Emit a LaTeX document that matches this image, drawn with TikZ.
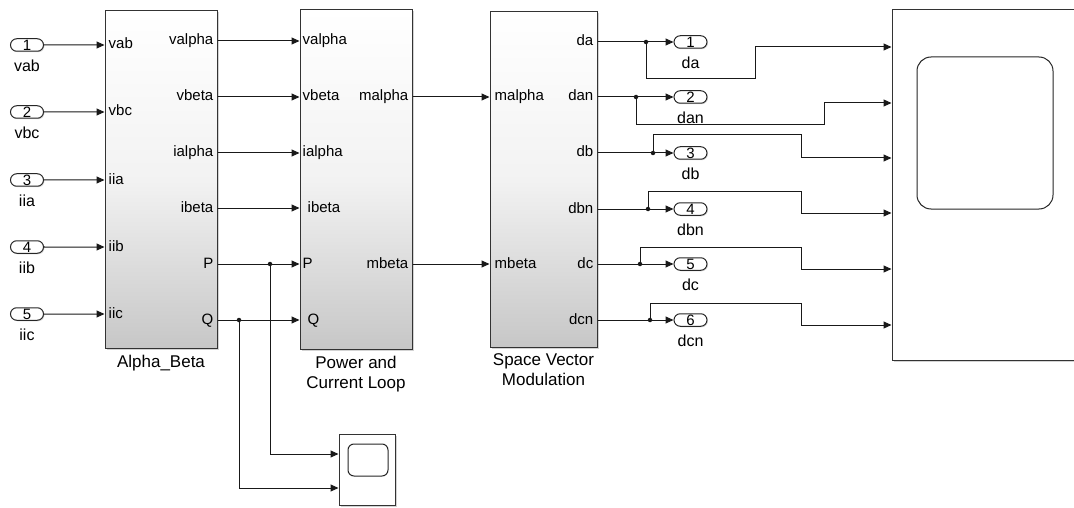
\documentclass[tikz,border=0pt]{standalone}
\usepackage{fontspec}
\setmainfont{Liberation Sans}
\usetikzlibrary{arrows.meta, positioning, shapes.misc, shadows}
\tikzstyle{block} = [rectangle, draw=black!80, line width=1pt, inner sep=0pt,
top color=white, bottom color=black!22, middle color=black!5,
drop shadow={shadow xshift=1.5pt, shadow yshift=-1.5pt, opacity=0.35}]
\tikzstyle{scopebox} = [rectangle, draw=black!80, line width=1pt, inner sep=0pt, fill=white,
drop shadow={shadow xshift=1.5pt, shadow yshift=-1.5pt, opacity=0.35}]
\tikzstyle{screen} = [rectangle, draw=black!85, line width=1pt, inner sep=0pt]
\tikzstyle{port} = [rounded rectangle, draw=black!85, line width=1pt, fill=white, inner sep=0pt,
minimum width=33pt, minimum height=12.5pt, font=\fontsize{15}{15}\selectfont,
drop shadow={shadow xshift=1pt, shadow yshift=-1pt, opacity=0.3}]
\tikzstyle{plbl} = [inner sep=1pt, text height=11pt, text depth=3pt, font=\fontsize{15}{15}\selectfont]
\tikzstyle{slbl} = [inner sep=1pt, font=\fontsize{16}{16}\selectfont]
\tikzstyle{blbl} = [inner sep=1pt, align=center, font=\fontsize{17}{20}\selectfont]
\tikzstyle{sig} = [line width=1pt, draw=black!90, -{Triangle[length=8pt,width=7pt]}]
\tikzstyle{dot} = [circle, fill=black!90, inner sep=0pt, minimum size=4.5pt]

\begin{document}
\begin{tikzpicture}[x=1pt, y=-1pt]
        \useasboundingbox (0,0) rectangle (1074,508);

        % Bloques
        \node [block, minimum width=112pt, minimum height=337pt] (alphabeta) at (161,179.5) {};
        \node [block, minimum width=112pt, minimum height=339pt] (power) at (356,179.5) {};
        \node [block, minimum width=107pt, minimum height=335pt] (svm) at (543.5,179.5) {};
        \node [blbl, below=5pt of alphabeta] (abname) {Alpha\_Beta};
        \node [blbl, below=5pt of power] (pcname) {Power and\\Current Loop};
        \node [blbl, below=5pt of svm] (svname) {Space Vector\\Modulation};

        % Scopes
        \node [scopebox, minimum width=190pt, minimum height=350pt] (scope) at (987,185) {};
        \node [screen, rounded corners=14pt, minimum width=136pt, minimum height=152pt] (scopescr) at (985,133) {};
        \node [scopebox, minimum width=56pt, minimum height=71pt] (scopepq) at (367,469.5) {};
        \node [screen, rounded corners=6pt, minimum width=40pt, minimum height=32pt] (scopepqscr) at (368,460) {};

        % Entradas
        \foreach \s/\y [count=\i] in {vab/45, vbc/112, iia/180, iib/247, iic/314} {
            \node [port] (\s) at (27,\y) {\i};
            \node [slbl, below=7pt of \s] (l\s) {\s};
            \node [plbl, anchor=west, xshift=3pt] (ab\s) at (alphabeta.west |- \s) {\s};
            \draw [sig] (\s) -- (alphabeta.west |- \s);
        }

        % Alpha_Beta -> Power and Current Loop
        \foreach \s/\y/\dx [count=\i] in {valpha/41/2, vbeta/97/2, ialpha/153/2, ibeta/208/7, P/264/2, Q/320/7} {
            \coordinate (r\i) at (0,\y);
            \node [plbl, anchor=east, xshift=-3pt] (abo\i) at (alphabeta.east |- r\i) {\s};
            \node [plbl, anchor=west, xshift=\dx pt] (pci\i) at (power.west |- r\i) {\s};
            \draw [sig] (alphabeta.east |- r\i) -- (power.west |- r\i);
        }

        % Power and Current Loop -> SVM
        \node [plbl, anchor=east, xshift=-3pt] (pco1) at (power.east |- r2) {malpha};
        \node [plbl, anchor=east, xshift=-3pt] (pco2) at (power.east |- r5) {mbeta};
        \node [plbl, anchor=west, xshift=4pt] (svi1) at (svm.west |- r2) {malpha};
        \node [plbl, anchor=west, xshift=4pt] (svi2) at (svm.west |- r5) {mbeta};
        \draw [sig] (power.east |- r2) -- (svm.west |- r2);
        \draw [sig] (power.east |- r5) -- (svm.west |- r5);

        % P y Q al scope pequeno
        \node [dot] (jp) at (270,264) {};
        \node [dot] (jq) at (239,320) {};
        \draw [sig] (jp.center) |- ([yshift=15.5pt]scopepq.west);
        \draw [sig] (jq.center) |- ([yshift=-18.5pt]scopepq.west);

        % Salidas y scope grande
        \foreach \s/\y/\jx/\ya/\xb/\ys [count=\i] in {da/42/646/79/755/47, dan/97/636/125/824/103, db/153/653/135/801/158, dbn/209/648/191/801/213, dc/264/640/247/801/269, dcn/320/650/303/801/325} {
            \node [port] (\s) at (690.5,\y) {\i};
            \node [slbl, below=7pt of \s] (l\s) {\s};
            \node [plbl, anchor=east, xshift=-3pt] (svo\i) at (svm.east |- \s) {\s};
            \node [dot] (j\s) at (\jx,\y) {};
            \draw [sig] (svm.east |- \s) -- (\s);
            \draw [sig] (j\s.center) -- (\jx,\ya) -- (\xb,\ya) |- (scope.west |- 0,\ys);
        }
    \end{tikzpicture}
\end{document}
